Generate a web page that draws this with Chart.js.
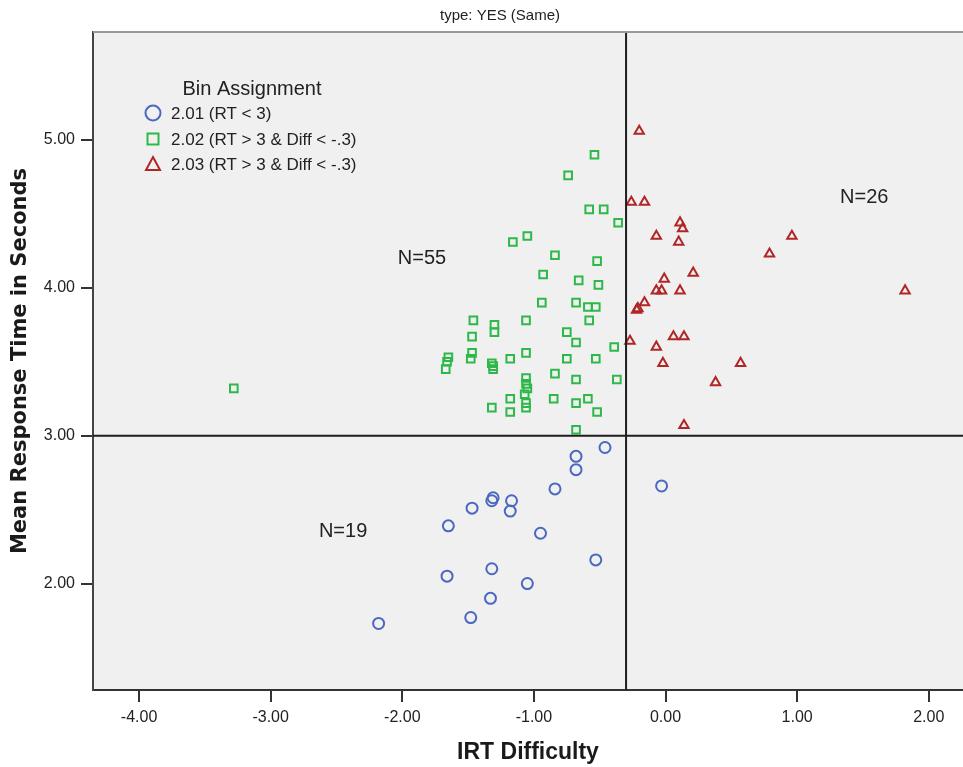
<!DOCTYPE html>
<html>
<head>
<meta charset="utf-8">
<title>type: YES (Same)</title>
<script src="https://cdn.jsdelivr.net/npm/chart.js@4.4.0/dist/chart.umd.min.js"></script>
<style>
    html, body { margin: 0; padding: 0; background: #fff; }
    #graphic { display: block; }
</style>
</head>
<body>
<canvas id="graphic" width="963" height="767"></canvas>
<script>
// axis ranges and ticks
const xMin = -4.35, xMax = 2.26;
const yMin = 1.28, yMax = 5.73;
const xTicks = [-4, -3, -2, -1, 0, 1, 2];
const yTicks = [2, 3, 4, 5];

// reference lines
const cutDiff = -0.3;
const cutRT = 3;

// 2.01 (RT < 3)
const bin1X = [-2.18, -1.65, -1.66, -1.47, -1.48, -1.31, -1.32, -1.32, -1.33, -1.17, -1.18, -1.05, -0.95, -0.84, -0.68, -0.68, -0.46, -0.53, -0.03];
const bin1Y = [1.73, 2.39, 2.05, 2.51, 1.77, 2.58, 2.56, 2.10, 1.90, 2.56, 2.49, 2.00, 2.34, 2.64, 2.86, 2.77, 2.92, 2.16, 2.66];

// 2.02 (RT > 3 & Diff < -.3)
const bin2X = [-3.28, -0.54, -0.74, -0.58, -0.47, -0.36, -1.05, -1.16, -0.84, -0.52, -0.93, -0.66, -0.51, -0.94, -0.68, -0.59, -0.53,
    -1.46, -1.06, -0.58, -1.30, -1.30, -0.75, -1.47, -0.68, -0.39, -1.65, -1.66, -1.67, -1.47, -1.48, -1.18, -1.06, -0.75, -0.53,
    -1.32, -1.31, -0.84, -0.68, -0.37, -1.06, -1.05, -1.07, -1.06, -1.06, -1.18, -0.85, -0.59, -0.68, -1.32, -1.18, -0.52, -0.68,
    -1.06, -1.31];
const bin2Y = [3.32, 4.90, 4.76, 4.53, 4.53, 4.44, 4.35, 4.31, 4.22, 4.18, 4.09, 4.05, 4.02, 3.90, 3.90, 3.87, 3.87,
    3.78, 3.78, 3.78, 3.75, 3.70, 3.70, 3.67, 3.63, 3.60, 3.53, 3.50, 3.45, 3.56, 3.52, 3.52, 3.56, 3.52, 3.52,
    3.49, 3.45, 3.42, 3.38, 3.38, 3.39, 3.32, 3.28, 3.22, 3.19, 3.25, 3.25, 3.25, 3.22, 3.19, 3.16, 3.16, 3.04,
    3.35, 3.47];

// 2.03 (RT > 3 & Diff < -.3)
const bin3X = [-0.20, -0.26, -0.16, 0.11, 0.13, -0.07, 0.10, 0.96, 0.79, 0.21, -0.01, -0.07, -0.03, 0.11, 1.82, -0.16, -0.21, -0.22, -0.27, 0.06, 0.14, -0.07, -0.02, 0.57, 0.38, 0.14];
const bin3Y = [5.06, 4.58, 4.58, 4.44, 4.40, 4.35, 4.31, 4.35, 4.23, 4.10, 4.06, 3.98, 3.98, 3.98, 3.98, 3.90, 3.86, 3.85, 3.64, 3.67, 3.67, 3.60, 3.49, 3.49, 3.36, 3.07];

const binLabels = ['2.01 (RT < 3)', '2.02 (RT > 3 & Diff < -.3)', '2.03 (RT > 3 & Diff < -.3)'];
const binColors = ['#4a68c0', '#2fb84a', '#b02626'];
const binStyles = ['circle', 'rect', 'triangle'];

// group counts written in the plot
const nLabels = ['N=55', 'N=26', 'N=19'];
const nX = [-1.85, 1.51, -2.45];
const nY = [4.20, 4.61, 2.35];

document.addEventListener('DOMContentLoaded', function () {
    const graphic = document.getElementById('graphic');

    const toPoints = (xs, ys) => xs.map((x, i) => ({ x: x, y: ys[i] }));
    const fontTick = { family: '"Liberation Sans", Arial, sans-serif', size: 16 };

    function binDataset(i, xs, ys) {
        return {
            label: binLabels[i],
            data: toPoints(xs, ys),
            pointStyle: binStyles[i],
            pointRadius: i === 0 ? 5.5 : 5.4,
            pointBorderWidth: 2,
            pointBorderColor: binColors[i],
            pointBackgroundColor: 'rgba(0,0,0,0)',
            borderColor: binColors[i],
            backgroundColor: 'rgba(0,0,0,0)',
            showLine: false
        };
    }

    function refLine(points) {
        return {
            type: 'line',
            label: '',
            data: points,
            borderColor: '#1e1e1e',
            borderWidth: 2,
            pointRadius: 0,
            fill: false
        };
    }

    // background, frame, title, legend and N= labels
    const decorations = {
        id: 'decorations',
        beforeDraw(chart) {
            const { ctx, chartArea: a } = chart;
            ctx.save();
            ctx.fillStyle = '#f0f0f0';
            ctx.fillRect(a.left, a.top, a.right - a.left, a.bottom - a.top);
            ctx.restore();
        },
        afterDraw(chart) {
            const { ctx, chartArea: a, scales } = chart;
            ctx.save();
            // top frame
            ctx.strokeStyle = '#999';
            ctx.lineWidth = 2;
            ctx.beginPath();
            ctx.moveTo(a.left, a.top);
            ctx.lineTo(a.right, a.top);
            ctx.stroke();

            // title
            ctx.fillStyle = '#222';
            ctx.textAlign = 'center';
            ctx.textBaseline = 'middle';
            ctx.font = '15px "Liberation Sans", Arial, sans-serif';
            ctx.fillText('type: YES (Same)', 500, 16);

            // N labels
            ctx.font = '20px "Liberation Sans", Arial, sans-serif';
            for (let i = 0; i < nLabels.length; i++) {
                ctx.fillText(nLabels[i], scales.x.getPixelForValue(nX[i]), scales.y.getPixelForValue(nY[i]));
            }

            // legend
            ctx.font = '20px "Liberation Sans", Arial, sans-serif';
            ctx.fillText('Bin Assignment', 252, 89);
            ctx.textAlign = 'left';
            ctx.font = '17px "Liberation Sans", Arial, sans-serif';
            const rows = [113, 139, 164];
            for (let i = 0; i < binLabels.length; i++) {
                const y = rows[i];
                ctx.strokeStyle = binColors[i];
                ctx.lineWidth = 2;
                ctx.beginPath();
                if (binStyles[i] === 'circle') {
                    ctx.arc(153, y, 7.5, 0, Math.PI * 2);
                } else if (binStyles[i] === 'rect') {
                    ctx.rect(147.5, y - 5.5, 11, 11);
                } else {
                    ctx.moveTo(153, y - 7);
                    ctx.lineTo(160, y + 6);
                    ctx.lineTo(146, y + 6);
                    ctx.closePath();
                }
                ctx.stroke();
                ctx.fillStyle = '#222';
                ctx.fillText(binLabels[i], 171, y + 1);
            }
            ctx.restore();
        }
    };

    new Chart(graphic, {
        type: 'scatter',
        data: {
            datasets: [
                refLine([{ x: cutDiff, y: yMin }, { x: cutDiff, y: yMax }]),
                refLine([{ x: xMin, y: cutRT }, { x: xMax, y: cutRT }]),
                binDataset(0, bin1X, bin1Y),
                binDataset(1, bin2X, bin2Y),
                binDataset(2, bin3X, bin3Y)
            ]
        },
        options: {
            responsive: false,
            devicePixelRatio: 1,
            animation: false,
            events: [],
            layout: { padding: { top: 32, right: 0, left: 0, bottom: 0 }, autoPadding: false },
            plugins: {
                legend: { display: false },
                title: { display: false },
                tooltip: { enabled: false }
            },
            scales: {
                x: {
                    type: 'linear',
                    min: xMin,
                    max: xMax,
                    afterBuildTicks: (s) => { s.ticks = xTicks.map((v) => ({ value: v })); },
                    afterFit: (s) => { s.height = 77; },
                    grid: { drawOnChartArea: false, drawTicks: true, tickLength: 12, color: '#333', lineWidth: 2 },
                    border: { display: true, color: '#333', width: 2 },
                    ticks: {
                        color: '#222',
                        font: fontTick,
                        padding: 6,
                        maxRotation: 0,
                        callback: (v) => v.toFixed(2)
                    },
                    title: {
                        display: true,
                        text: 'IRT Difficulty',
                        color: '#1a1a1a',
                        font: { family: '"Liberation Sans", Arial, sans-serif', size: 23, weight: 'bold' },
                        padding: { top: 0, bottom: 1 }
                    }
                },
                y: {
                    type: 'linear',
                    min: yMin,
                    max: yMax,
                    afterBuildTicks: (s) => { s.ticks = yTicks.map((v) => ({ value: v })); },
                    afterFit: (s) => { s.width = 93; },
                    grid: { drawOnChartArea: false, drawTicks: true, tickLength: 12, color: '#333', lineWidth: 2 },
                    border: { display: true, color: '#444', width: 2 },
                    ticks: {
                        color: '#222',
                        font: fontTick,
                        padding: 6,
                        callback: (v) => v.toFixed(2)
                    },
                    title: {
                        display: true,
                        text: 'Mean Response Time in Seconds',
                        color: '#1a1a1a',
                        font: { family: '"DejaVu Sans", sans-serif', size: 21, weight: 'bold' },
                        padding: { top: 8, bottom: 0 }
                    }
                }
            }
        },
        plugins: [decorations]
    });
});
</script>
</body>
</html>
